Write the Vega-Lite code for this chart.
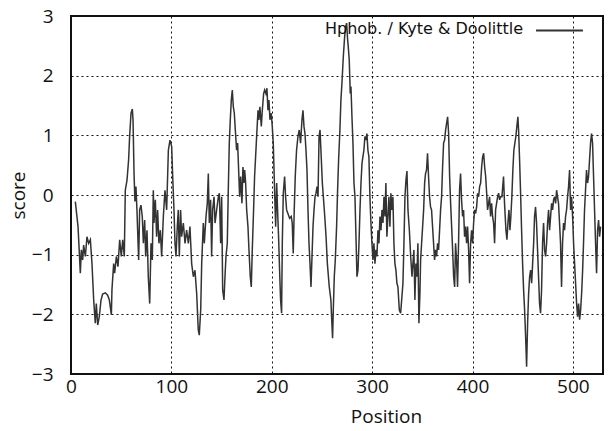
{
  "$schema": "https://vega.github.io/schema/vega-lite/v6.json",
  "width": 532,
  "height": 358,
  "autosize": {"type": "none"},
  "padding": {"left": 71, "top": 16, "right": 5, "bottom": 57},
  "background": "white",
  "config": {
    "view": {"stroke": "#111", "strokeWidth": 2},
    "axis": {
      "grid": true, "gridColor": "#111", "gridDash": [2, 3], "gridWidth": 1, "gridOpacity": 1,
      "domain": false, "tickSize": 0,
      "labelFont": "Open Sans", "labelFontSize": 19, "labelColor": "#111",
      "titleFont": "Open Sans", "titleFontSize": 19, "titleFontWeight": "normal", "titleColor": "#111"
    }
  },
  "data": {"values": [
    {"p":4.3,"v":-0.11},{"p":7.0,"v":-0.53},{"p":9.3,"v":-1.31},{"p":10.3,"v":-0.92},{"p":11.6,"v":-1.09},{"p":12.6,"v":-0.84},{"p":14.3,"v":-1.03},{"p":15.9,"v":-0.70},{"p":17.6,"v":-0.81},{"p":19.3,"v":-0.75},{"p":20.9,"v":-1.15},{"p":22.6,"v":-1.76},{"p":24.2,"v":-2.15},{"p":25.2,"v":-1.82},{"p":26.6,"v":-2.18},{"p":28.2,"v":-2.04},{"p":29.9,"v":-1.76},{"p":31.5,"v":-1.66},{"p":34.2,"v":-1.64},{"p":36.5,"v":-1.68},{"p":38.2,"v":-1.76},{"p":40.2,"v":-2.01},{"p":40.8,"v":-1.59},{"p":42.5,"v":-1.15},{"p":43.5,"v":-1.31},{"p":45.2,"v":-1.03},{"p":46.8,"v":-1.20},{"p":48.5,"v":-0.75},{"p":50.1,"v":-1.03},{"p":51.5,"v":-0.75},{"p":53.1,"v":-1.03},{"p":54.1,"v":0.08},{"p":55.8,"v":0.25},{"p":57.4,"v":0.59},{"p":58.4,"v":0.98},{"p":59.8,"v":1.37},{"p":61.1,"v":1.44},{"p":61.8,"v":1.26},{"p":62.8,"v":0.36},{"p":63.7,"v":-0.11},{"p":64.7,"v":0.14},{"p":65.7,"v":-0.25},{"p":67.4,"v":-1.09},{"p":68.4,"v":-0.25},{"p":69.7,"v":-0.17},{"p":71.0,"v":-0.36},{"p":72.1,"v":-0.81},{"p":73.4,"v":-0.42},{"p":74.4,"v":-1.03},{"p":75.7,"v":-0.59},{"p":77.0,"v":-1.37},{"p":78.4,"v":-1.82},{"p":79.7,"v":-0.81},{"p":81.0,"v":-1.09},{"p":82.0,"v":0.08},
    {"p":82.7,"v":-0.47},{"p":84.0,"v":-0.08},{"p":85.3,"v":-0.70},{"p":86.3,"v":-0.25},{"p":87.6,"v":-0.81},{"p":89.0,"v":-0.59},{"p":90.3,"v":-1.03},{"p":92.0,"v":-0.36},{"p":93.6,"v":0.08},{"p":95.3,"v":-0.25},{"p":97.0,"v":0.75},{"p":98.6,"v":0.92},{"p":100.3,"v":0.81},{"p":101.3,"v":0.31},{"p":102.6,"v":-0.25},{"p":103.6,"v":-0.81},{"p":104.6,"v":-1.03},{"p":105.9,"v":-0.53},{"p":106.9,"v":-0.25},{"p":107.9,"v":-1.03},{"p":109.2,"v":-0.25},{"p":110.2,"v":-0.70},{"p":111.9,"v":-0.47},{"p":113.6,"v":-0.81},{"p":115.2,"v":-0.59},{"p":116.9,"v":-0.81},{"p":118.5,"v":-0.53},{"p":120.2,"v":-1.15},{"p":121.9,"v":-1.37},{"p":123.5,"v":-1.26},{"p":125.2,"v":-1.65},{"p":126.8,"v":-2.26},{"p":127.8,"v":-2.35},{"p":129.2,"v":-1.93},{"p":130.2,"v":-1.15},{"p":131.8,"v":-0.47},{"p":132.8,"v":-0.81},{"p":134.5,"v":-0.36},{"p":135.8,"v":-0.14},{"p":136.8,"v":0.36},{"p":137.8,"v":-0.47},{"p":139.1,"v":-0.08},{"p":140.1,"v":-1.03},{"p":141.1,"v":-0.25},{"p":142.5,"v":-0.03},{"p":143.5,"v":-0.47},{"p":145.1,"v":-0.25},{"p":146.8,"v":-0.03},{"p":147.8,"v":0.03},{"p":149.1,"v":-0.81},{"p":150.1,"v":-0.03},{"p":151.1,"v":-1.59},{"p":152.4,"v":-1.76},{"p":153.4,"v":-1.37},{"p":154.4,"v":-1.03},{"p":155.7,"v":-0.81},{"p":156.7,"v":0.08},{"p":157.7,"v":0.87},{"p":158.7,"v":1.26},{"p":159.7,"v":1.59},{"p":160.7,"v":1.76},{"p":161.7,"v":1.48},{"p":162.7,"v":1.37},{"p":163.7,"v":1.09},{"p":165.0,"v":0.75},{"p":166.0,"v":0.87},
    {"p":168.0,"v":-0.03},{"p":169.0,"v":0.31},{"p":170.3,"v":-0.14},{"p":171.3,"v":0.47},{"p":172.3,"v":0.20},{"p":173.0,"v":0.42},{"p":174.0,"v":0.20},{"p":175.0,"v":-0.25},{"p":176.3,"v":-0.53},{"p":177.3,"v":-0.92},{"p":178.6,"v":-1.37},{"p":179.6,"v":-1.54},{"p":180.6,"v":-0.92},{"p":181.9,"v":-0.25},{"p":182.9,"v":0.31},{"p":184.6,"v":0.87},{"p":186.3,"v":1.42},{"p":187.2,"v":1.26},{"p":188.2,"v":1.48},{"p":189.6,"v":1.15},{"p":190.6,"v":1.42},{"p":191.9,"v":1.70},{"p":192.9,"v":1.76},{"p":194.2,"v":1.70},{"p":195.2,"v":1.79},{"p":196.2,"v":1.42},{"p":197.2,"v":1.59},{"p":198.2,"v":1.26},{"p":199.5,"v":1.37},{"p":200.5,"v":1.15},{"p":201.5,"v":0.87},{"p":202.9,"v":0.03},{"p":203.9,"v":-0.53},{"p":204.9,"v":0.20},{"p":205.8,"v":-0.25},{"p":206.8,"v":-0.70},{"p":207.8,"v":-1.26},{"p":208.8,"v":-1.76},{"p":209.8,"v":-1.98},{"p":210.5,"v":-0.81},{"p":211.5,"v":0.03},{"p":212.8,"v":0.31},{"p":213.8,"v":-0.03},{"p":214.8,"v":-0.25},{"p":216.1,"v":-0.31},{"p":217.8,"v":-0.39},{"p":219.4,"v":-0.36},{"p":220.4,"v":-0.47},{"p":221.4,"v":-0.98},{"p":222.4,"v":-0.25},{"p":223.4,"v":0.31},{"p":224.7,"v":0.75},{"p":226.1,"v":0.98},{"p":227.4,"v":1.09},{"p":228.7,"v":0.87},{"p":230.1,"v":1.26},{"p":231.1,"v":1.42},{"p":232.1,"v":1.15},{"p":233.1,"v":1.03},{"p":234.1,"v":0.75},{"p":235.1,"v":0.42},{"p":236.1,"v":-0.25},{"p":237.1,"v":-0.81},{"p":238.1,"v":-1.15},{"p":239.1,"v":-1.54},{"p":240.1,"v":-1.03},{"p":241.1,"v":-0.53},{"p":242.1,"v":-0.25},{"p":243.1,"v":-0.03},{"p":244.1,"v":0.03},{"p":245.1,"v":0.14},{"p":246.1,"v":-0.03},{"p":247.1,"v":0.98},{"p":248.1,"v":1.09},{"p":249.4,"v":0.59},{"p":250.4,"v":0.20},{"p":251.4,"v":-0.03},{"p":252.8,"v":-0.36},{"p":254.1,"v":-0.70},{"p":255.4,"v":-1.15},
    {"p":257.3,"v":-1.54},{"p":258.9,"v":-1.76},{"p":259.9,"v":-2.15},{"p":260.6,"v":-2.40},{"p":261.3,"v":-1.93},{"p":262.3,"v":-1.37},{"p":263.3,"v":-1.09},{"p":264.6,"v":-0.53},{"p":265.6,"v":0.08},{"p":266.6,"v":0.59},{"p":267.9,"v":1.09},{"p":268.9,"v":1.59},{"p":269.9,"v":1.87},{"p":271.3,"v":2.32},{"p":272.6,"v":2.65},{"p":273.6,"v":2.82},{"p":274.6,"v":2.88},{"p":275.6,"v":2.60},{"p":276.2,"v":2.49},{"p":277.2,"v":2.26},{"p":278.2,"v":1.70},{"p":278.9,"v":1.82},{"p":279.9,"v":1.31},{"p":280.9,"v":0.87},{"p":281.9,"v":0.20},{"p":282.9,"v":-0.03},{"p":283.9,"v":-0.70},{"p":284.9,"v":-1.37},{"p":285.9,"v":-1.26},{"p":286.9,"v":-0.81},{"p":287.9,"v":-0.25},{"p":288.9,"v":0.20},{"p":289.9,"v":0.53},{"p":290.8,"v":0.64},{"p":291.8,"v":0.75},{"p":292.8,"v":0.98},{"p":293.8,"v":0.92},{"p":294.8,"v":1.03},{"p":295.8,"v":0.75},{"p":296.8,"v":0.64},{"p":297.8,"v":-0.03},{"p":298.8,"v":-0.47},{"p":299.8,"v":-0.81},{"p":300.8,"v":-1.09},{"p":301.8,"v":-0.81},{"p":302.8,"v":-1.15},{"p":303.8,"v":-0.92},{"p":304.8,"v":-1.03},{"p":305.8,"v":-0.59},{"p":306.8,"v":-0.81},{"p":307.8,"v":-0.36},{"p":308.8,"v":-0.59},{"p":309.8,"v":-0.25},{"p":310.8,"v":-0.47},{"p":311.8,"v":-0.03},{"p":312.8,"v":-0.36},{"p":313.7,"v":0.20},{"p":314.7,"v":-0.70},{"p":315.7,"v":-0.36},{"p":316.7,"v":-0.03},{"p":317.7,"v":-0.53},{"p":318.7,"v":0.03},{"p":319.7,"v":-0.25},{"p":320.7,"v":-0.03},{"p":321.7,"v":-0.81},{"p":322.7,"v":-1.15},{"p":323.7,"v":-1.26},{"p":324.7,"v":-1.48},{"p":325.7,"v":-1.54},{"p":327.1,"v":-1.93},{"p":328.4,"v":-1.98},{"p":329.7,"v":-1.70},{"p":330.7,"v":-1.48},{"p":331.7,"v":-0.81},{"p":332.7,"v":-0.03},{"p":333.7,"v":0.25},{"p":334.7,"v":0.40},{"p":335.7,"v":-0.25},{"p":337.1,"v":-0.59},{"p":338.4,"v":-1.03},{"p":339.7,"v":-1.37},
    {"p":341.6,"v":-0.92},{"p":342.6,"v":-1.76},{"p":343.6,"v":-1.15},{"p":344.6,"v":-1.37},{"p":345.6,"v":-0.81},{"p":346.6,"v":-2.15},{"p":347.6,"v":-1.65},{"p":348.3,"v":-1.09},{"p":349.3,"v":-0.81},{"p":350.3,"v":-0.53},{"p":351.3,"v":-0.25},{"p":352.3,"v":0.20},{"p":353.2,"v":0.36},{"p":354.2,"v":0.42},{"p":355.2,"v":0.70},{"p":356.2,"v":0.31},{"p":357.2,"v":-0.03},{"p":358.2,"v":-0.20},{"p":359.2,"v":-0.25},{"p":360.2,"v":-0.53},{"p":361.2,"v":-0.81},{"p":362.2,"v":-1.09},{"p":363.2,"v":-0.92},{"p":364.2,"v":-1.03},{"p":365.2,"v":-0.81},{"p":366.2,"v":-0.92},{"p":367.2,"v":-0.59},{"p":368.2,"v":-0.25},{"p":369.2,"v":-0.03},{"p":370.2,"v":0.47},{"p":371.2,"v":0.87},{"p":372.2,"v":0.92},{"p":373.2,"v":1.09},{"p":374.2,"v":1.20},{"p":375.2,"v":1.31},{"p":376.2,"v":1.03},{"p":377.2,"v":0.31},{"p":378.2,"v":-0.14},{"p":379.2,"v":-0.53},{"p":380.2,"v":-0.92},{"p":381.2,"v":-1.37},{"p":382.2,"v":-1.54},{"p":383.1,"v":-0.81},{"p":384.1,"v":-1.09},{"p":385.1,"v":-1.54},{"p":386.1,"v":-0.81},{"p":387.1,"v":0.08},{"p":388.1,"v":0.36},{"p":389.1,"v":-0.08},{"p":390.1,"v":-0.36},{"p":391.1,"v":-0.25},{"p":392.1,"v":-0.70},{"p":393.1,"v":-0.53},{"p":394.1,"v":-0.81},{"p":395.1,"v":-0.53},{"p":396.1,"v":-0.92},{"p":397.1,"v":-1.48},{"p":398.1,"v":-0.81},{"p":399.1,"v":-0.59},{"p":400.1,"v":-0.81},{"p":401.1,"v":-0.47},{"p":402.1,"v":-0.25},{"p":403.1,"v":-0.31},{"p":404.1,"v":-0.20},{"p":405.1,"v":0.03},{"p":406.1,"v":-0.03},{"p":407.1,"v":0.14},{"p":408.1,"v":0.20},{"p":409.1,"v":0.47},{"p":410.1,"v":0.64},{"p":411.1,"v":0.70},{"p":412.1,"v":0.47},{"p":413.1,"v":0.31},{"p":414.1,"v":0.03},{"p":415.0,"v":-0.25},{"p":416.0,"v":-0.14},{"p":417.0,"v":-0.03},{"p":418.0,"v":-0.36},{"p":419.0,"v":-0.14},{"p":420.0,"v":-0.36},{"p":421.0,"v":-0.47},{"p":422.0,"v":-0.81},{"p":423.0,"v":-0.25},{"p":424.0,"v":-0.14},{"p":425.0,"v":-0.03},{"p":426.0,"v":0.03},{"p":427.0,"v":-0.08},{"p":428.0,"v":-0.03},
    {"p":429.3,"v":-0.03},{"p":430.9,"v":0.31},{"p":431.9,"v":-0.14},{"p":433.3,"v":-0.59},{"p":434.3,"v":-0.75},{"p":435.3,"v":-0.47},{"p":436.3,"v":-0.25},{"p":437.3,"v":-0.59},{"p":438.2,"v":-0.36},{"p":439.2,"v":-0.03},{"p":440.2,"v":0.42},{"p":441.2,"v":0.75},{"p":442.2,"v":0.87},{"p":443.2,"v":0.98},{"p":444.2,"v":1.15},{"p":445.2,"v":1.31},{"p":445.9,"v":1.09},{"p":446.9,"v":0.59},{"p":447.9,"v":0.03},{"p":448.9,"v":-0.59},{"p":449.9,"v":-1.15},{"p":450.9,"v":-1.59},{"p":451.9,"v":-1.93},{"p":452.9,"v":-2.37},{"p":453.9,"v":-2.88},{"p":454.9,"v":-2.15},{"p":455.9,"v":-1.65},{"p":456.9,"v":-1.37},{"p":457.9,"v":-1.26},{"p":458.9,"v":-1.48},{"p":459.9,"v":-1.15},{"p":460.9,"v":-0.81},{"p":461.8,"v":-0.36},{"p":462.8,"v":-0.20},{"p":463.8,"v":-0.47},{"p":464.8,"v":-0.92},{"p":465.8,"v":-1.37},{"p":466.8,"v":-1.82},{"p":467.8,"v":-1.98},{"p":468.8,"v":-1.59},{"p":469.8,"v":-0.81},{"p":470.8,"v":-0.47},{"p":471.8,"v":-0.92},{"p":472.8,"v":-1.03},{"p":473.8,"v":-0.81},{"p":474.8,"v":-0.47},{"p":475.8,"v":-0.25},{"p":476.8,"v":-0.59},{"p":477.8,"v":-0.36},{"p":478.8,"v":-0.14},{"p":479.8,"v":-0.25},{"p":480.8,"v":-0.08},{"p":481.8,"v":-0.03},{"p":482.8,"v":-0.14},{"p":483.8,"v":0.08},{"p":484.7,"v":-0.03},{"p":485.7,"v":-0.14},{"p":486.7,"v":-0.47},{"p":487.7,"v":-0.81},{"p":488.7,"v":-1.54},{"p":489.7,"v":-0.81},{"p":490.7,"v":-0.47},{"p":491.7,"v":-0.59},{"p":492.7,"v":-0.36},{"p":493.7,"v":-0.25},{"p":494.7,"v":-0.03},{"p":495.7,"v":0.14},{"p":496.7,"v":0.42},{"p":497.7,"v":-0.25},{"p":498.7,"v":-0.03},{"p":499.7,"v":-0.36},{"p":500.7,"v":-0.81},{"p":501.7,"v":-1.15},{"p":502.7,"v":-1.48},{"p":503.7,"v":-1.82},{"p":504.7,"v":-2.04},{"p":505.7,"v":-1.82},{"p":506.7,"v":-2.09},{"p":507.7,"v":-1.93},{"p":508.7,"v":-1.65},{"p":509.7,"v":-1.26},{"p":510.6,"v":-0.81},{"p":511.6,"v":-0.25},{"p":512.6,"v":0.08},{"p":513.6,"v":0.42},{"p":514.6,"v":0.20},{"p":515.6,"v":0.31},{"p":516.6,"v":0.59},{"p":517.6,"v":0.87},{"p":518.6,"v":1.03},{"p":519.6,"v":0.87},{"p":520.6,"v":0.31},{"p":521.6,"v":-0.25},{"p":522.6,"v":-0.81},{"p":523.6,"v":-1.31},{"p":524.6,"v":-0.59},{"p":525.6,"v":-0.42},{"p":526.6,"v":-0.70},{"p":527.6,"v":-0.53}
  ]},
  "mark": {"type": "line", "strokeWidth": 1.5, "interpolate": "linear"},
  "encoding": {
    "x": {
      "field": "p", "type": "quantitative",
      "scale": {"domain": [0, 530], "nice": false, "zero": false},
      "axis": {"values": [0, 100, 200, 300, 400, 500], "title": "Position", "labelPadding": 3, "titleX": 315, "titleY": 42, "titleBaseline": "middle", "labelFlush": false}
    },
    "y": {
      "field": "v", "type": "quantitative",
      "scale": {"domain": [-3, 3], "nice": false},
      "axis": {"values": [-3, -2, -1, 0, 1, 2, 3], "title": "score", "labelPadding": 18, "titleX": -53, "titleY": 179, "titleBaseline": "middle", "labelFlush": false}
    },
    "color": {
      "datum": "Hphob. / Kyte & Doolittle", "type": "nominal",
      "scale": {"range": ["#333333"]},
      "legend": {
        "orient": "none", "legendX": 254, "legendY": -10, "padding": 0,
        "title": "Hphob. / Kyte & Doolittle", "titleOrient": "left", "titleAnchor": "middle", "titleLimit": 500,
        "titleFont": "DejaVu Sans", "titleFontSize": 16, "titleFontWeight": "normal", "titleColor": "#111", "titlePadding": 11, "titleBaseline": "top",
        "labelExpr": "''", "labelOffset": 0,
        "symbolType": "stroke", "symbolSize": 2200, "symbolStrokeWidth": 2
      }
    }
  }
}
